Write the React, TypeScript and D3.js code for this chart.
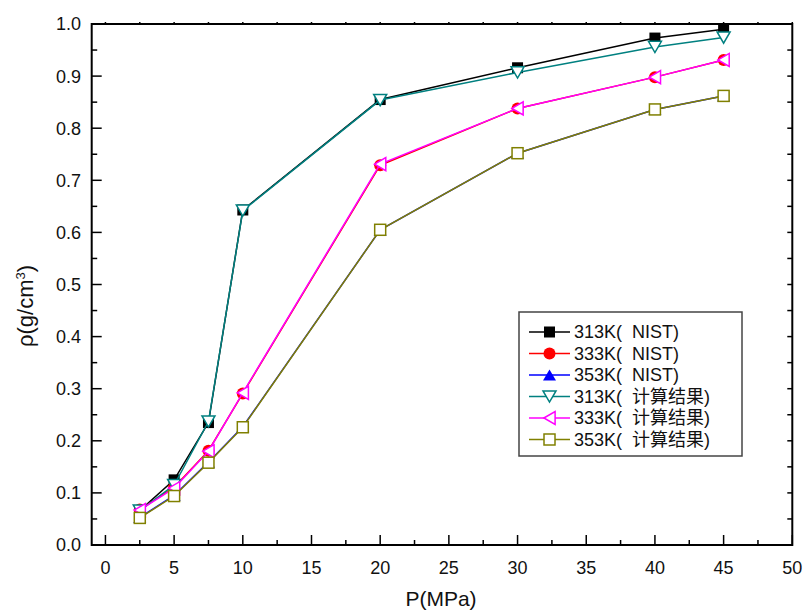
import React from "react";
import * as d3 from "d3";

const pressures = [2.5, 5, 7.5, 10, 20, 30, 40, 45];
const nist313 = [0.066, 0.125, 0.235, 0.643, 0.855, 0.916, 0.973, 0.99];
const nist333 = [0.068, 0.111, 0.181, 0.291, 0.729, 0.838, 0.898, 0.931];
const nist353 = [0.053, 0.095, 0.159, 0.227, 0.605, 0.752, 0.836, 0.862];
const calc313 = [0.066, 0.115, 0.237, 0.642, 0.854, 0.907, 0.956, 0.974];
const calc333 = [0.067, 0.109, 0.18, 0.292, 0.731, 0.838, 0.898, 0.931];
const calc353 = [0.052, 0.094, 0.158, 0.226, 0.605, 0.752, 0.836, 0.862];

const seriesNames = [
  "313K(  NIST)",
  "333K(  NIST)",
  "353K(  NIST)",
  "313K(  计算结果)",
  "333K(  计算结果)",
  "353K(  计算结果)",
];

const xMajorTicks = [0, 5, 10, 15, 20, 25, 30, 35, 40, 45, 50];
const xMinorTicks = [2.5, 7.5, 12.5, 17.5, 22.5, 27.5, 32.5, 37.5, 42.5, 47.5];
const yMajorTicks = [0, 0.1, 0.2, 0.3, 0.4, 0.5, 0.6, 0.7, 0.8, 0.9, 1.0];
const yMinorTicks = [0.05, 0.15, 0.25, 0.35, 0.45, 0.55, 0.65, 0.75, 0.85, 0.95];

type Marker = "square" | "circle" | "up" | "down" | "left" | "osquare";

const series = [
  { name: seriesNames[0], values: nist313, color: "#000000", marker: "square" as Marker },
  { name: seriesNames[1], values: nist333, color: "#FF0000", marker: "circle" as Marker },
  { name: seriesNames[2], values: nist353, color: "#0000FF", marker: "up" as Marker },
  { name: seriesNames[3], values: calc313, color: "#008080", marker: "down" as Marker },
  { name: seriesNames[4], values: calc333, color: "#FF00FF", marker: "left" as Marker },
  { name: seriesNames[5], values: calc353, color: "#808000", marker: "osquare" as Marker },
];

const FONT = "'Liberation Sans', Arial, 'Noto Sans CJK SC', sans-serif";

function MarkerShape({ type, cx, cy, color }: { type: Marker; cx: number; cy: number; color: string }) {
  const s = 11;
  const h = s / 2;
  if (type === "square")
    return <rect x={cx - h} y={cy - h} width={s} height={s} fill={color} />;
  if (type === "osquare")
    return <rect x={cx - h} y={cy - h} width={s} height={s} fill="#fff" stroke={color} strokeWidth={1.5} />;
  if (type === "circle") return <circle cx={cx} cy={cy} r={6} fill={color} />;
  const w = 6.5;
  const t = 5.6;
  let pts: [number, number][] = [];
  if (type === "up") pts = [[cx, cy - t], [cx + w, cy + t], [cx - w, cy + t]];
  if (type === "down") pts = [[cx - w, cy - t], [cx + w, cy - t], [cx, cy + t]];
  if (type === "left") pts = [[cx - t, cy], [cx + t, cy - w], [cx + t, cy + w]];
  const filled = type === "up";
  return (
    <polygon
      points={pts.map((p) => p.join(",")).join(" ")}
      fill={filled ? color : "#fff"}
      stroke={color}
      strokeWidth={filled ? 0 : 1.5}
      strokeLinejoin="miter"
    />
  );
}

export default function App() {
  const W = 804;
  const H = 614;
  const x = d3.scaleLinear().domain([-1, 50]).range([91.7, 792.3]);
  const y = d3.scaleLinear().domain([0, 1]).range([545, 24]);
  const [x0, x1] = x.range();
  const [y0, y1] = y.range();

  const line = d3
    .line<number>()
    .x((_, i) => x(pressures[i]))
    .y((d) => y(d));

  const legendX = 519;
  const legendY = 312;
  const legendW = 223;
  const legendH = 144;
  const rowY = (i: number) => legendY + 20 + i * 21.5;

  return (
    <svg
      width={W}
      height={H}
      style={{ position: "absolute", left: 0, top: 0, background: "#fff" }}
      fontFamily={FONT}
    >
      <rect x={0} y={0} width={W} height={H} fill="#fff" />

      {/* series */}
      {series.map((s, si) => (
        <g key={si}>
          <path d={line(s.values) || ""} fill="none" stroke={s.color} strokeWidth={1.5} />
          {s.values.map((v, i) => (
            <MarkerShape key={i} type={s.marker} cx={x(pressures[i])} cy={y(v)} color={s.color} />
          ))}
        </g>
      ))}

      {/* ticks bottom */}
      {xMajorTicks.map((t) => (
        <line key={"xb" + t} x1={x(t)} x2={x(t)} y1={y0} y2={y0 - 10} stroke="#000" strokeWidth={1.5} />
      ))}
      {xMinorTicks.map((t) => (
        <line key={"xbm" + t} x1={x(t)} x2={x(t)} y1={y0} y2={y0 - 5} stroke="#000" strokeWidth={1.5} />
      ))}
      {/* ticks top */}
      {[...xMajorTicks, ...xMinorTicks].map((t) => (
        <line key={"xt" + t} x1={x(t)} x2={x(t)} y1={y1} y2={y1 - 2} stroke="#000" strokeWidth={1.5} />
      ))}
      {/* ticks left */}
      {yMajorTicks.map((t) => (
        <line key={"yl" + t} x1={x0} x2={x0 + 10} y1={y(t)} y2={y(t)} stroke="#000" strokeWidth={1.5} />
      ))}
      {yMinorTicks.map((t) => (
        <line key={"ylm" + t} x1={x0} x2={x0 + 5.5} y1={y(t)} y2={y(t)} stroke="#000" strokeWidth={1.5} />
      ))}
      {/* ticks right */}
      {[...yMajorTicks, ...yMinorTicks].map((t) => (
        <line key={"yr" + t} x1={x1} x2={x1 - 5} y1={y(t)} y2={y(t)} stroke="#000" strokeWidth={1.5} />
      ))}

      {/* frame */}
      <rect x={x0} y={y1} width={x1 - x0} height={y0 - y1} fill="none" stroke="#000" strokeWidth={2} />

      {/* tick labels */}
      {xMajorTicks.map((t) => (
        <text key={"xl" + t} x={x(t)} y={574} textAnchor="middle" fontSize={18} fill="#111">
          {t}
        </text>
      ))}
      {yMajorTicks.map((t) => (
        <text key={"ylab" + t} x={81} y={y(t)} dy="0.36em" textAnchor="end" fontSize={18} fill="#111">
          {t.toFixed(1)}
        </text>
      ))}

      {/* axis titles */}
      <text x={441} y={606} textAnchor="middle" fontSize={21} fill="#111">
        P(MPa)
      </text>
      <text transform="translate(33,306) rotate(-90)" textAnchor="middle" fontSize={22} fill="#111">
        ρ(g/cm<tspan dy="-8" fontSize={13}>3</tspan>
        <tspan dy="8">)</tspan>
      </text>

      {/* legend */}
      <rect x={legendX} y={legendY} width={legendW} height={legendH} fill="#fff" stroke="#444" strokeWidth={1.5} />
      {series.map((s, i) => (
        <g key={"lg" + i}>
          <line x1={529} x2={570} y1={rowY(i)} y2={rowY(i)} stroke={s.color} strokeWidth={1.5} />
          <MarkerShape type={s.marker} cx={549.5} cy={rowY(i)} color={s.color} />
          <text x={574} y={rowY(i)} dy="0.36em" fontSize={18} fill="#111" style={{ whiteSpace: "pre" }}>
            {s.name}
          </text>
        </g>
      ))}
    </svg>
  );
}
